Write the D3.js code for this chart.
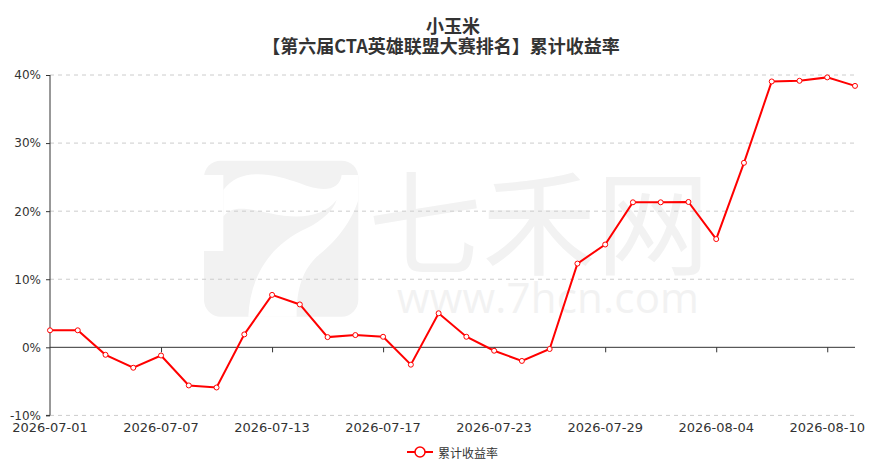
<!DOCTYPE html>
<html><head><meta charset="utf-8">
<script src="https://cdn.jsdelivr.net/npm/d3@7/dist/d3.min.js"></script>
<style>html,body{margin:0;padding:0;background:#fff;}</style>
</head><body><svg id="c" width="881" height="476"></svg>
<script>
const dates = ["2026-07-01","2026-07-02","2026-07-03","2026-07-06","2026-07-07","2026-07-08","2026-07-09","2026-07-10","2026-07-13","2026-07-14","2026-07-15","2026-07-16","2026-07-17","2026-07-20","2026-07-21","2026-07-22","2026-07-23","2026-07-24","2026-07-27","2026-07-28","2026-07-29","2026-07-30","2026-07-31","2026-08-03","2026-08-04","2026-08-05","2026-08-06","2026-08-07","2026-08-10","2026-08-11"];
const values = [2.5,2.5,-1.1,-3.0,-1.2,-5.6,-5.9,1.9,7.7,6.3,1.5,1.8,1.55,-2.55,5.0,1.55,-0.5,-2.0,-0.25,12.3,15.1,21.3,21.3,21.35,15.9,27.1,39.05,39.15,39.65,38.4];
const yTicks = [-10,0,10,20,30,40];
const xTickLabels = ["2026-07-01","2026-07-07","2026-07-13","2026-07-17","2026-07-23","2026-07-29","2026-08-04","2026-08-10"];
const titleLines = ["小玉米","【第六届CTA英雄联盟大赛排名】累计收益率"];
const seriesName = "累计收益率";

const svg = d3.select("#c");
const L = 50, R = 855, T = 75, B = 415.4;
const x = d3.scalePoint().domain(dates).range([L, R]);
const y = d3.scaleLinear().domain([-10, 40]).range([B, T]);

// watermark
const wm = svg.append("g");
const lg = wm.append("g").attr("transform","translate(190,140) scale(0.3333)");
lg.append("rect").attr("x",42).attr("y",62).attr("width",463).attr("height",468).attr("rx",50).attr("fill","#f2f2f2");
lg.append("rect").attr("x",42).attr("y",105).attr("width",58).attr("height",228).attr("fill","#fff");
lg.append("path").attr("fill","#fff").attr("d","M 100,150 C 150,80 250,100 330,130 C 400,160 450,150 455,105 L 505,105 L 505,180 C 480,260 420,320 380,350 C 330,400 320,460 320,530 L 175,530 C 180,420 230,320 350,265 C 400,240 430,210 440,180 C 400,230 330,240 240,220 C 160,200 120,200 100,230 Z");
wm.append("text").attr("x",368).attr("y",216).attr("dominant-baseline","central")
  .attr("font-family","Noto Sans CJK SC").attr("font-weight",400).attr("font-size",114)
  .attr("fill","#f2f2f2").text("七禾网");
wm.append("text").attr("x",397).attr("y",313).attr("font-family","Open Sans, sans-serif")
  .attr("font-size",42).attr("fill","#f2f2f2").attr("textLength",302).text("www.7hcn.com");

// grid
svg.append("g").selectAll("line").data(yTicks.filter(d=>d!==0)).join("line")
  .attr("x1",L).attr("x2",R).attr("y1",d=>y(d)).attr("y2",d=>y(d))
  .attr("stroke","#ccc").attr("stroke-dasharray","4,4").attr("stroke-width",1);

// y axis
const yAxis = svg.append("g").attr("transform",`translate(${L},0)`)
  .call(d3.axisLeft(y).tickValues(yTicks).tickSize(4).tickPadding(5).tickFormat(d=>d+"%"));
yAxis.select(".domain").attr("stroke","#333").attr("d",`M-4,${B}H0V${T}`);
yAxis.selectAll(".tick line").attr("stroke","#333");
yAxis.selectAll("text").attr("fill","#333").attr("font-family","DejaVu Sans, sans-serif").attr("font-size",12);

// zero line with ticks
const xAxis = svg.append("g").attr("transform",`translate(0,${y(0)})`)
  .call(d3.axisBottom(x).tickValues(xTickLabels).tickSize(5).tickFormat(""));
xAxis.select(".domain").attr("stroke","#333").attr("d",`M${L},0H${R}`);
xAxis.selectAll(".tick line").attr("stroke","#333");
xAxis.selectAll(".tick").filter(d=>d===dates[0]).remove();

// x labels at bottom
svg.append("g").selectAll("text").data(xTickLabels).join("text")
  .attr("x",d=>x(d)).attr("y",432).attr("text-anchor","middle")
  .attr("font-family","DejaVu Sans, sans-serif").attr("font-size",13).attr("fill","#333").text(d=>d);

// line
const data = dates.map((d,i)=>({d, v: values[i]}));
svg.append("path").datum(data).attr("fill","none").attr("stroke","#ff0000").attr("stroke-width",2)
  .attr("d", d3.line().x(p=>x(p.d)).y(p=>y(p.v)));
svg.append("g").selectAll("circle").data(data).join("circle")
  .attr("cx",p=>x(p.d)).attr("cy",p=>y(p.v)).attr("r",2.5)
  .attr("fill","#fff").attr("stroke","#ff0000").attr("stroke-width",1);

// title
svg.append("g").selectAll("text").data(titleLines).join("text")
  .attr("x",(d,i)=>i===0?453:441).attr("y",(d,i)=>i===0?33:53).attr("text-anchor","middle")
  .attr("font-family","Noto Sans CJK SC").attr("font-weight","bold").attr("font-size",18)
  .attr("fill","#333").text(d=>d);

// legend
const leg = svg.append("g");
leg.append("line").attr("x1",407).attr("x2",433).attr("y1",452).attr("y2",452).attr("stroke","#ff0000").attr("stroke-width",2);
leg.append("circle").attr("cx",420).attr("cy",452).attr("r",5).attr("fill","#fff").attr("stroke","#ff0000").attr("stroke-width",1.5);
leg.append("text").attr("x",438).attr("y",452).attr("dominant-baseline","central")
  .attr("font-family","Noto Sans CJK SC").attr("font-size",12).attr("fill","#333").text(seriesName);
</script></body></html>
